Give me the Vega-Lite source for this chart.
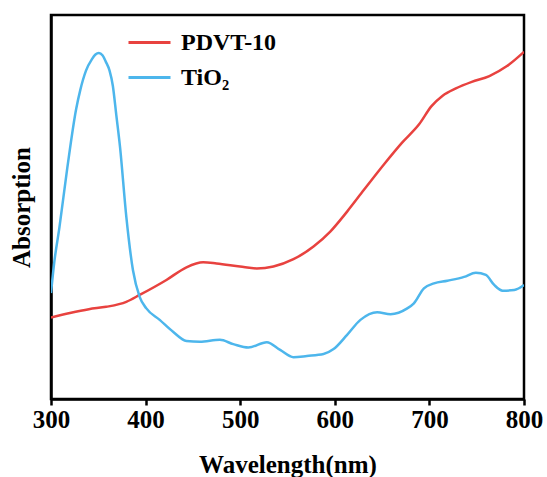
{
  "$schema": "https://vega.github.io/schema/vega-lite/v6.json",
  "width": 473,
  "height": 384,
  "autosize": {"type": "none"},
  "padding": {"left": 51, "top": 15, "right": 23, "bottom": 78},
  "background": "white",
  "config": {
    "font": "Liberation Serif",
    "view": {"stroke": "black", "strokeWidth": 2.5},
    "axis": {"grid": false}
  },
  "datasets": {
    "spectra": [
      {"wl": 300, "a": 0.212, "s": "PDVT-10"},
      {"wl": 320, "a": 0.224, "s": "PDVT-10"},
      {"wl": 340, "a": 0.234, "s": "PDVT-10"},
      {"wl": 358.3, "a": 0.240, "s": "PDVT-10"},
      {"wl": 379.6, "a": 0.253, "s": "PDVT-10"},
      {"wl": 393.7, "a": 0.271, "s": "PDVT-10"},
      {"wl": 422, "a": 0.310, "s": "PDVT-10"},
      {"wl": 443.2, "a": 0.343, "s": "PDVT-10"},
      {"wl": 460.8, "a": 0.356, "s": "PDVT-10"},
      {"wl": 475, "a": 0.353, "s": "PDVT-10"},
      {"wl": 499.8, "a": 0.345, "s": "PDVT-10"},
      {"wl": 517.5, "a": 0.340, "s": "PDVT-10"},
      {"wl": 535.1, "a": 0.345, "s": "PDVT-10"},
      {"wl": 556.3, "a": 0.364, "s": "PDVT-10"},
      {"wl": 577.5, "a": 0.397, "s": "PDVT-10"},
      {"wl": 595.2, "a": 0.436, "s": "PDVT-10"},
      {"wl": 613, "a": 0.488, "s": "PDVT-10"},
      {"wl": 630.6, "a": 0.544, "s": "PDVT-10"},
      {"wl": 652.3, "a": 0.612, "s": "PDVT-10"},
      {"wl": 670.9, "a": 0.667, "s": "PDVT-10"},
      {"wl": 689.3, "a": 0.716, "s": "PDVT-10"},
      {"wl": 702, "a": 0.762, "s": "PDVT-10"},
      {"wl": 714, "a": 0.790, "s": "PDVT-10"},
      {"wl": 728, "a": 0.809, "s": "PDVT-10"},
      {"wl": 744.8, "a": 0.826, "s": "PDVT-10"},
      {"wl": 763.4, "a": 0.841, "s": "PDVT-10"},
      {"wl": 782, "a": 0.867, "s": "PDVT-10"},
      {"wl": 800, "a": 0.904, "s": "PDVT-10"},
      {"wl": 300, "a": 0.276, "s": "TiO₂"},
      {"wl": 303.5, "a": 0.357, "s": "TiO₂"},
      {"wl": 308.8, "a": 0.445, "s": "TiO₂"},
      {"wl": 317.3, "a": 0.603, "s": "TiO₂"},
      {"wl": 326.6, "a": 0.755, "s": "TiO₂"},
      {"wl": 331, "a": 0.805, "s": "TiO₂"},
      {"wl": 337, "a": 0.855, "s": "TiO₂"},
      {"wl": 343.3, "a": 0.885, "s": "TiO₂"},
      {"wl": 347, "a": 0.897, "s": "TiO₂"},
      {"wl": 350.6, "a": 0.901, "s": "TiO₂"},
      {"wl": 354.4, "a": 0.895, "s": "TiO₂"},
      {"wl": 358, "a": 0.878, "s": "TiO₂"},
      {"wl": 361.9, "a": 0.855, "s": "TiO₂"},
      {"wl": 365.4, "a": 0.815, "s": "TiO₂"},
      {"wl": 369, "a": 0.74, "s": "TiO₂"},
      {"wl": 372.9, "a": 0.658, "s": "TiO₂"},
      {"wl": 379.6, "a": 0.475, "s": "TiO₂"},
      {"wl": 386.6, "a": 0.336, "s": "TiO₂"},
      {"wl": 393.7, "a": 0.266, "s": "TiO₂"},
      {"wl": 400.8, "a": 0.236, "s": "TiO₂"},
      {"wl": 414.9, "a": 0.206, "s": "TiO₂"},
      {"wl": 429, "a": 0.175, "s": "TiO₂"},
      {"wl": 443.2, "a": 0.151, "s": "TiO₂"},
      {"wl": 457.3, "a": 0.149, "s": "TiO₂"},
      {"wl": 478.5, "a": 0.154, "s": "TiO₂"},
      {"wl": 492.7, "a": 0.143, "s": "TiO₂"},
      {"wl": 508.6, "a": 0.134, "s": "TiO₂"},
      {"wl": 528.1, "a": 0.148, "s": "TiO₂"},
      {"wl": 542.2, "a": 0.128, "s": "TiO₂"},
      {"wl": 556.3, "a": 0.109, "s": "TiO₂"},
      {"wl": 570.5, "a": 0.112, "s": "TiO₂"},
      {"wl": 588.1, "a": 0.117, "s": "TiO₂"},
      {"wl": 598.7, "a": 0.130, "s": "TiO₂"},
      {"wl": 613, "a": 0.167, "s": "TiO₂"},
      {"wl": 627.1, "a": 0.206, "s": "TiO₂"},
      {"wl": 644.8, "a": 0.226, "s": "TiO₂"},
      {"wl": 658.9, "a": 0.221, "s": "TiO₂"},
      {"wl": 676.6, "a": 0.236, "s": "TiO₂"},
      {"wl": 683.6, "a": 0.249, "s": "TiO₂"},
      {"wl": 694.2, "a": 0.288, "s": "TiO₂"},
      {"wl": 704.8, "a": 0.301, "s": "TiO₂"},
      {"wl": 719, "a": 0.308, "s": "TiO₂"},
      {"wl": 736.7, "a": 0.318, "s": "TiO₂"},
      {"wl": 749.1, "a": 0.329, "s": "TiO₂"},
      {"wl": 759.7, "a": 0.323, "s": "TiO₂"},
      {"wl": 768.5, "a": 0.297, "s": "TiO₂"},
      {"wl": 777.4, "a": 0.282, "s": "TiO₂"},
      {"wl": 789.7, "a": 0.284, "s": "TiO₂"},
      {"wl": 800, "a": 0.297, "s": "TiO₂"}
    ]
  },
  "data": {"name": "spectra"},
  "mark": {"type": "line", "interpolate": "monotone", "strokeWidth": 2.5, "clip": true},
  "encoding": {
    "x": {
      "field": "wl", "type": "quantitative",
      "scale": {"domain": [300, 800], "nice": false, "zero": false},
      "axis": {
        "title": "Wavelength(nm)", "values": [300, 400, 500, 600, 700, 800],
        "format": "d", "domainColor": "black", "domainWidth": 2.5,
        "tickColor": "black", "tickWidth": 2.5, "tickSize": 6,
        "labelFont": "Liberation Serif", "labelFontWeight": "bold", "labelFontSize": 25,
        "labelColor": "black", "labelPadding": 2, "labelFlush": false,
        "titleFont": "Liberation Serif", "titleFontWeight": "bold", "titleFontSize": 25,
        "titleColor": "black", "titleBaseline": "alphabetic", "titleY": 73
      }
    },
    "y": {
      "field": "a", "type": "quantitative",
      "scale": {"domain": [0, 1], "nice": false},
      "axis": {
        "title": "Absorption", "labels": false, "ticks": false,
        "domainColor": "black", "domainWidth": 2.5,
        "titleFont": "Liberation Serif", "titleFontWeight": "bold", "titleFontSize": 25,
        "titleColor": "black", "titleBaseline": "alphabetic", "titleX": -22, "titleY": 192
      }
    },
    "color": {
      "field": "s", "type": "nominal",
      "scale": {"domain": ["PDVT-10", "TiO₂"], "range": ["#e8423f", "#4db6ec"]},
      "legend": {
        "title": null, "orient": "none", "legendX": 76, "legendY": 5,
        "symbolType": "stroke", "symbolSize": 1764, "symbolStrokeWidth": 3,
        "labelFont": "Liberation Serif", "labelFontWeight": "bold", "labelFontSize": 24,
        "labelColor": "black", "labelOffset": 9, "rowPadding": -8
      }
    }
  }
}
